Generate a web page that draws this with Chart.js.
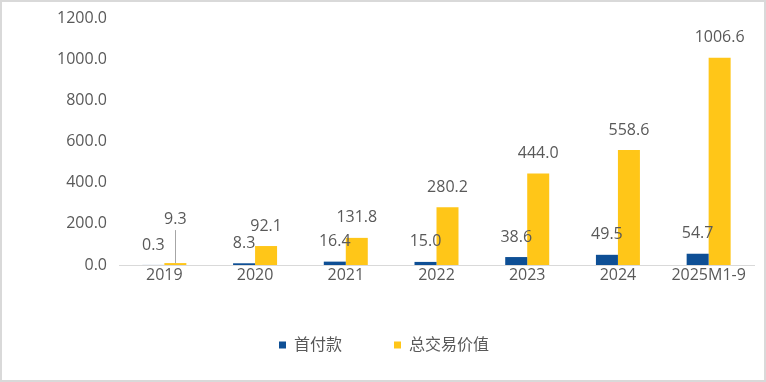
<!DOCTYPE html>
<html lang="zh-CN">
<head>
  <meta charset="UTF-8">
  <title>首付款与总交易价值</title>
  <script src="https://cdn.jsdelivr.net/npm/chart.js"></script>
  <style>
    html, body {
      margin: 0;
      padding: 0;
      background: #ffffff;
    }
    #frame {
      width: 766px;
      height: 382px;
      box-sizing: border-box;
      border: 2px solid #d9d9d9;
      position: relative;
    }
    #frame canvas {
      display: block;
    }
  </style>
</head>
<body>
  <div id="frame">
    <canvas id="myChart" width="762" height="378"></canvas>
  </div>

  <script>
    // 数据
    const categories = ['2019', '2020', '2021', '2022', '2023', '2024', '2025M1-9'];
    const downPayment = [0.3, 8.3, 16.4, 15.0, 38.6, 49.5, 54.7];
    const totalValue = [9.3, 92.1, 131.8, 280.2, 444.0, 558.6, 1006.6];
    const yTicks = [0, 200, 400, 600, 800, 1000, 1200];

    const textColor = '#595959';
    const fontFamily = '"Open Sans", "Noto Sans CJK SC", sans-serif';

    // 数据标签（2019 年总交易价值标签上移并加引导线）
    const valueLabels = {
      id: 'valueLabels',
      afterDatasetsDraw(chart) {
        const ctx = chart.ctx;
        ctx.save();
        ctx.font = '16px ' + fontFamily;
        ctx.fillStyle = textColor;
        ctx.textAlign = 'center';
        ctx.textBaseline = 'middle';
        chart.data.datasets.forEach((ds, di) => {
          const meta = chart.getDatasetMeta(di);
          meta.data.forEach((bar, i) => {
            let y = bar.y - 20;
            if (di === 1 && i === 0) {
              const labelY = y - 24;
              ctx.strokeStyle = '#a6a6a6';
              ctx.lineWidth = 1;
              ctx.beginPath();
              ctx.moveTo(Math.round(bar.x) + 0.5, labelY + 11);
              ctx.lineTo(Math.round(bar.x) + 0.5, bar.y);
              ctx.stroke();
              y = labelY;
            }
            ctx.fillText(ds.data[i].toFixed(1), bar.x, y);
          });
        });
        ctx.restore();
      }
    };

    const ctx = document.getElementById('myChart').getContext('2d');
    const myChart = new Chart(ctx, {
      type: 'bar',
      data: {
        labels: categories,
        datasets: [{
          label: '首付款',
          data: downPayment,
          backgroundColor: '#0e4f95',
          barPercentage: 1,
          categoryPercentage: 0.485
        }, {
          label: '总交易价值',
          data: totalValue,
          backgroundColor: '#ffc618',
          barPercentage: 1,
          categoryPercentage: 0.485
        }]
      },
      options: {
        responsive: false,
        animation: false,
        layout: {
          padding: { top: 16, right: 10, left: 12, bottom: 17 }
        },
        plugins: {
          legend: {
            position: 'bottom',
            labels: {
              boxWidth: 7,
              boxHeight: 7,
              padding: 52,
              color: textColor,
              font: { size: 16, family: fontFamily }
            }
          },
          tooltip: { enabled: false }
        },
        scales: {
          x: {
            afterFit(scale) { scale.height = 20; },
            grid: { display: false, drawTicks: false },
            border: { display: true, color: '#d9d9d9', width: 1 },
            ticks: {
              padding: 1,
              color: textColor,
              font: { size: 16, family: fontFamily }
            }
          },
          y: {
            min: 0,
            max: 1200,
            afterFit(scale) {
              scale.width = 105;
              scale.paddingTop = 0;
            },
            afterBuildTicks(scale) {
              scale.ticks = yTicks.map(v => ({ value: v }));
            },
            grid: { display: false, drawTicks: false },
            border: { display: false },
            ticks: {
              padding: 12,
              color: textColor,
              font: { size: 16, family: fontFamily, lineHeight: 1 },
              callback: v => Number(v).toFixed(1)
            }
          }
        }
      },
      plugins: [valueLabels]
    });
  </script>
</body>
</html>
